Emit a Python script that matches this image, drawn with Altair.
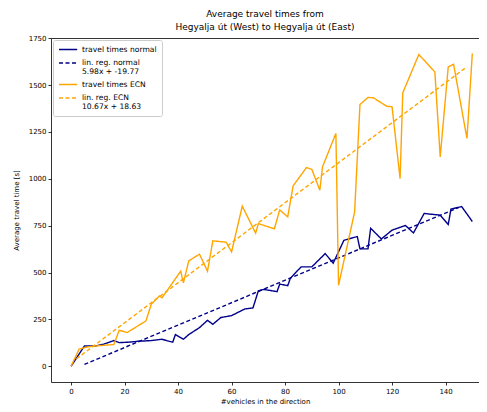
import altair as alt
import pandas as pd

# ---- data ----
normal_x = [0, 5, 9, 12, 16, 18, 21, 25, 30, 34, 38, 39, 42, 44, 48, 51, 53, 56, 60, 65,
            68, 70, 72, 77, 78, 81, 82, 86, 90, 95, 98, 102, 107, 108, 111, 112, 116, 120,
            125, 128, 132, 138, 141, 142, 146, 150]
normal_y = [0, 108, 108, 117, 137, 126, 128, 133, 137, 144, 128, 169, 144, 169, 206, 245,
            224, 260, 270, 306, 311, 402, 410, 398, 438, 430, 470, 530, 530, 601, 550, 672,
            692, 626, 626, 736, 679, 726, 751, 711, 815, 806, 756, 838, 852, 772]

ecn_x = [0, 3, 6, 9, 16, 18, 21, 28, 30, 33, 34, 41, 42, 44, 48, 51, 53, 58, 60, 64, 69,
         70, 76, 78, 81, 83, 88, 90, 93, 94, 99, 100, 106, 108, 111, 113, 118, 120, 123,
         124, 130, 136, 138, 141, 143, 148, 150]
ecn_y = [0, 91, 103, 108, 116, 192, 180, 242, 331, 375, 365, 507, 445, 562, 598, 507, 669,
         662, 610, 854, 710, 761, 733, 834, 797, 962, 1060, 1050, 939, 1064, 1242, 432, 823,
         1396, 1434, 1432, 1387, 1384, 1001, 1458, 1663, 1570, 1117, 1597, 1611, 1215, 1668]

# regression lines: slope, intercept and x extent
reg_normal = [5.98, -19.77]
reg_normal_x = [5, 145]
reg_ecn = [10.67, 18.63]
reg_ecn_x = [2, 148]

x_ticks = [0, 20, 40, 60, 80, 100, 120, 140]
y_ticks = [0, 250, 500, 750, 1000, 1250, 1500, 1750]

series_names = [
    "travel times normal",
    "lin. reg. normal|5.98x + -19.77",
    "travel times ECN",
    "lin. reg. ECN|10.67x + 18.63",
]
series_colors = ["#00008b", "#00008b", "#ffa500", "#ffa500"]
series_dash = [[1, 0], [4, 2.5], [1, 0], [4, 2.5]]

rows = []
for x, y in zip(normal_x, normal_y):
    rows.append({"x": x, "y": y, "series": series_names[0]})
for x in reg_normal_x:
    rows.append({"x": x, "y": reg_normal[0] * x + reg_normal[1], "series": series_names[1]})
for x, y in zip(ecn_x, ecn_y):
    rows.append({"x": x, "y": y, "series": series_names[2]})
for x in reg_ecn_x:
    rows.append({"x": x, "y": reg_ecn[0] * x + reg_ecn[1], "series": series_names[3]})
df = pd.DataFrame(rows)

FONT = "DejaVu Sans"
XDOM = [-7.5, 152.5]
YDOM = [-84, 1751]

legend_kw = dict(title=None, orient="top-left", offset=2,
                 symbolType="M-1,0H4.2", symbolSize=49, symbolStrokeWidth=1.4,
                 labelFontSize=7.6, labelFont=FONT, labelColor="black",
                 labelExpr="split(datum.label, '|')",
                 labelLimit=300, labelOffset=15, rowPadding=4.5,
                 fillColor="white", strokeColor="#cccccc", cornerRadius=2,
                 padding=5)

axis_common = dict(grid=False, domain=True, domainColor="black", domainWidth=0.8,
                   tickColor="black", tickSize=3, tickWidth=0.8,
                   labelFontSize=7, titleFontSize=7, labelColor="black", titleColor="black",
                   labelFont=FONT, titleFont=FONT, titleFontWeight="normal",
                   labelPadding=2, labelFlush=False)

lines = alt.Chart(df).mark_line(strokeWidth=1.4).encode(
    x=alt.X("x:Q",
            scale=alt.Scale(domain=XDOM, nice=False, zero=False),
            axis=alt.Axis(values=x_ticks, title="#vehicles in the direction",
                          titlePadding=3, **axis_common)),
    y=alt.Y("y:Q",
            scale=alt.Scale(domain=YDOM, nice=False, zero=False),
            axis=alt.Axis(values=y_ticks, format="d", title="Average travel time [s]",
                          titlePadding=9, **axis_common)),
    color=alt.Color("series:N",
                    scale=alt.Scale(domain=series_names, range=series_colors),
                    legend=alt.Legend(**legend_kw)),
    strokeDash=alt.StrokeDash("series:N",
                              scale=alt.Scale(domain=series_names, range=series_dash),
                              legend=alt.Legend(**legend_kw)),
    order=alt.Order("x:Q"),
)

# invisible layer only to draw the top spine (matplotlib-style frame)
top_spine = alt.Chart(df).mark_point(opacity=0).encode(
    x=alt.X("x:Q", scale=alt.Scale(domain=XDOM, nice=False, zero=False),
            axis=alt.Axis(orient="top", labels=False, ticks=False, title=None, grid=False,
                          domain=True, domainColor="black", domainWidth=0.8)),
    y=alt.Y("y:Q", scale=alt.Scale(domain=YDOM, nice=False, zero=False), axis=None),
)

chart = alt.layer(lines, top_spine).resolve_axis(x="independent", y="independent").properties(
    width=428,
    height=344,
    title=alt.TitleParams(["Average travel times from", "Hegyalja út (West) to Hegyalja út (East)"],
                          font=FONT, fontSize=9, fontWeight="normal", color="black",
                          anchor="middle", offset=2, lineHeight=13),
    autosize=alt.AutoSizeParams(type="none"),
    padding={"left": 43, "top": 30, "right": 0, "bottom": 30},
).configure(
    style={"guide-label": {"lineHeight": 8.7}}
).configure_view(
    stroke=None
)

chart.save("out.html", embed_options={"renderer": "svg", "actions": False})
